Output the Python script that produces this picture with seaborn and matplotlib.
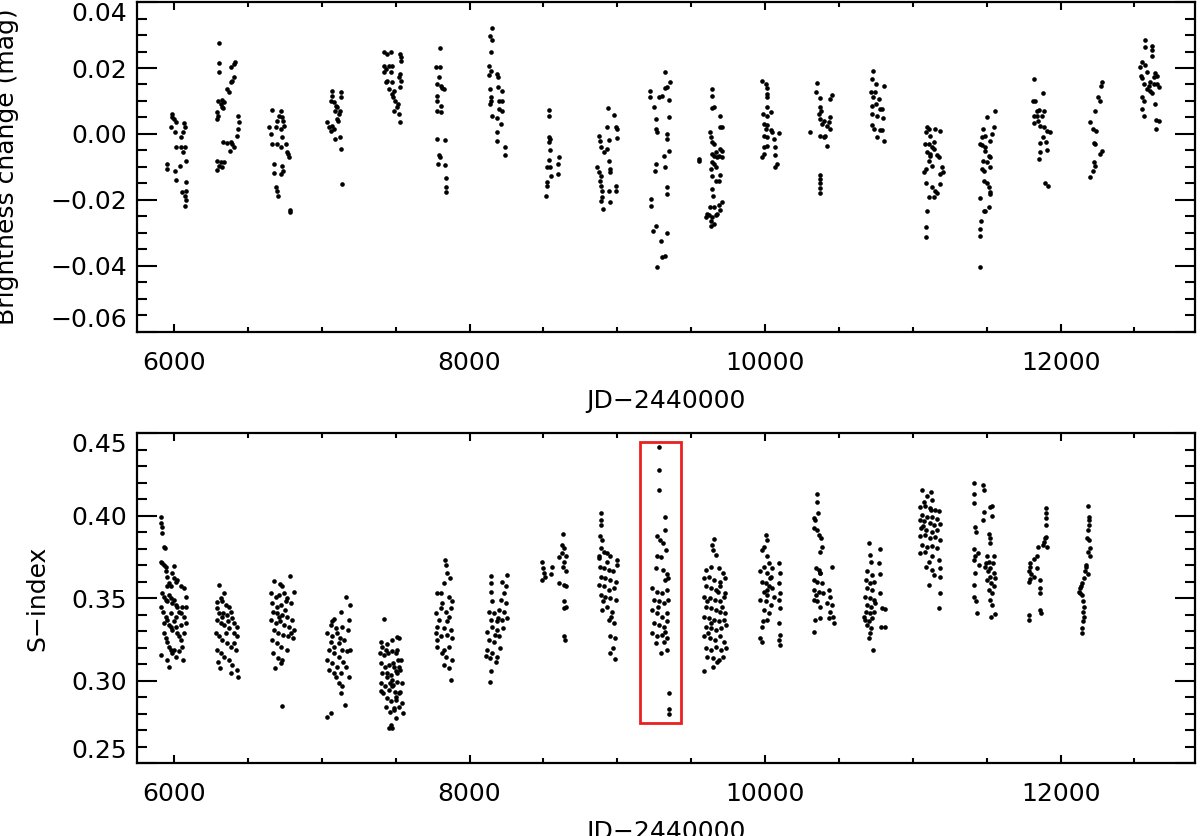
import pandas as pd
import matplotlib
matplotlib.use('Agg')
import matplotlib.pyplot as plt
import seaborn as sns
from matplotlib.patches import Rectangle
from matplotlib.ticker import FixedLocator, MultipleLocator

# photometry: (JD-2440000, brightness change in mag), one line per observing season
phot_obs = [
    (5984, 0.0061), (5989, 0.0051), (6000, 0.0045), (5977, 0.0020), (6011, 0.0035), (6007, 0.0005), (6068, 0.0033),
    (6074, 0.0020), (6063, 0.0005), (6045, -0.0010), (6016, -0.0038), (6045, -0.0040), (6074, -0.0040), (6063, -0.0056),
    (5955, -0.0091), (5955, -0.0106), (6007, -0.0111), (6038, -0.0098), (6079, -0.0081), (6011, -0.0139), (6079, -0.0146),
    (6079, -0.0172), (6074, -0.0187), (6079, -0.0200), (6074, -0.0219), (6056, -0.0177),
    (6304, 0.0275), (6304, 0.0214), (6304, 0.0187), (6298, 0.0101), (6316, 0.0091), (6327, 0.0103), (6338, 0.0096),
    (6334, 0.0079), (6361, 0.0136), (6372, 0.0126), (6383, 0.0157), (6395, 0.0162), (6406, 0.0172), (6406, 0.0212),
    (6410, 0.0217), (6383, 0.0202), (6293, 0.0066), (6298, 0.0056), (6293, 0.0045), (6293, -0.0081), (6304, -0.0096),
    (6293, -0.0108), (6316, -0.0086), (6338, -0.0086), (6334, -0.0025), (6361, -0.0028), (6383, -0.0023), (6395, -0.0030),
    (6379, -0.0051), (6406, -0.0040), (6424, -0.0005), (6433, 0.0015), (6440, 0.0035), (6433, 0.0056), (6327, -0.0101),
    (6327, 0.0081),
    (6665, 0.0073), (6722, 0.0071), (6710, 0.0056), (6733, 0.0051), (6699, 0.0040), (6740, 0.0040), (6744, 0.0025),
    (6643, 0.0020), (6654, 0.0000), (6688, 0.0020), (6722, 0.0015), (6699, -0.0030), (6755, -0.0030), (6762, -0.0056),
    (6771, -0.0061), (6780, -0.0071), (6677, -0.0091), (6677, -0.0119), (6733, -0.0096), (6740, -0.0111), (6726, -0.0121),
    (6688, -0.0162), (6699, -0.0172), (6704, -0.0187), (6785, -0.0230), (6785, -0.0235), (6665, -0.0030), (6722, -0.0040),
    (6733, -0.0010),
    (7067, 0.0131), (7071, 0.0116), (7064, 0.0101), (7082, 0.0096), (7094, 0.0086), (7105, 0.0081), (7089, 0.0071),
    (7123, 0.0071), (7127, 0.0126), (7132, 0.0111), (7037, 0.0035), (7048, 0.0020), (7060, 0.0008), (7071, 0.0025),
    (7082, 0.0015), (7105, 0.0045), (7116, 0.0061), (7110, 0.0040), (7089, -0.0015), (7123, -0.0010), (7132, -0.0045),
    (7139, -0.0152),
    (7421, 0.0247), (7444, 0.0242), (7421, 0.0207), (7432, 0.0197), (7455, 0.0207), (7421, 0.0187), (7444, 0.0162),
    (7432, 0.0157), (7455, 0.0136), (7471, 0.0247), (7473, 0.0207), (7471, 0.0187), (7477, 0.0157), (7489, 0.0131),
    (7484, 0.0111), (7493, 0.0101), (7511, 0.0081), (7489, 0.0071), (7529, 0.0242), (7534, 0.0232), (7534, 0.0222),
    (7529, 0.0182), (7534, 0.0162), (7529, 0.0035), (7516, 0.0091), (7477, 0.0121), (7522, 0.0061), (7529, 0.0141),
    (7522, 0.0172),
    (7800, 0.0261), (7770, 0.0202), (7800, 0.0202), (7782, 0.0152), (7804, 0.0146), (7816, 0.0139), (7827, 0.0136),
    (7793, 0.0172), (7777, 0.0116), (7782, 0.0101), (7804, 0.0086), (7782, 0.0071), (7809, 0.0066), (7777, -0.0015),
    (7831, -0.0018), (7793, -0.0063), (7800, -0.0071), (7788, -0.0091), (7831, -0.0094), (7838, -0.0134), (7838, -0.0162),
    (7843, -0.0177),
    (8154, 0.0321), (8138, 0.0298), (8154, 0.0285), (8143, 0.0247), (8131, 0.0207), (8143, 0.0192), (8131, 0.0180),
    (8188, 0.0182), (8192, 0.0174), (8138, 0.0136), (8192, 0.0141), (8221, 0.0131), (8143, 0.0111), (8143, 0.0101),
    (8138, 0.0091), (8199, 0.0101), (8221, 0.0101), (8199, 0.0076), (8221, 0.0071), (8154, 0.0056), (8183, 0.0048),
    (8210, 0.0030), (8183, 0.0005), (8183, -0.0020), (8237, -0.0040), (8237, -0.0064),
    (8537, 0.0073), (8537, 0.0056), (8537, -0.0008), (8542, -0.0015), (8537, -0.0025), (8544, -0.0047), (8537, -0.0079),
    (8544, -0.0099), (8548, -0.0126), (8526, -0.0146), (8521, -0.0157), (8519, -0.0187), (8605, -0.0071), (8600, -0.0091),
    (8600, -0.0121), (8526, -0.0101),
    (8936, 0.0078), (8981, 0.0059), (8932, 0.0022), (8988, 0.0020), (8999, 0.0015), (8875, -0.0005), (8882, -0.0020),
    (8887, -0.0040), (8943, -0.0018), (8999, -0.0013), (8932, -0.0045), (8943, -0.0081), (8864, -0.0099), (8875, -0.0116),
    (8887, -0.0126), (8882, -0.0141), (8891, -0.0157), (8898, -0.0172), (8898, -0.0192), (8891, -0.0202), (8905, -0.0227),
    (8948, -0.0106), (8948, -0.0116), (8943, -0.0172), (8988, -0.0157), (8988, -0.0172), (8948, -0.0205), (8909, -0.0056),
    (9326, 0.0187), (9356, 0.0157), (9338, 0.0141), (9326, 0.0139), (9220, 0.0131), (9220, 0.0113), (9281, 0.0113),
    (9304, 0.0116), (9349, 0.0103), (9247, 0.0083), (9349, 0.0051), (9259, 0.0045), (9259, 0.0015), (9270, 0.0005),
    (9333, 0.0000), (9333, -0.0015), (9349, -0.0051), (9315, -0.0066), (9259, -0.0091), (9254, -0.0111), (9326, -0.0101),
    (9338, -0.0160), (9333, -0.0182), (9225, -0.0197), (9225, -0.0217), (9259, -0.0278), (9243, -0.0293), (9338, -0.0300),
    (9299, -0.0325), (9326, -0.0369), (9304, -0.0372), (9270, -0.0402),
    (9642, 0.0136), (9642, 0.0116), (9653, 0.0081), (9642, 0.0079), (9694, 0.0056), (9698, 0.0020), (9710, 0.0022),
    (9626, 0.0005), (9631, -0.0010), (9642, -0.0025), (9653, -0.0030), (9698, -0.0045), (9710, -0.0051), (9665, -0.0056),
    (9642, -0.0061), (9653, -0.0066), (9687, -0.0066), (9710, -0.0071), (9676, -0.0071), (9552, -0.0076), (9552, -0.0081),
    (9642, -0.0086), (9653, -0.0091), (9631, -0.0106), (9665, -0.0101), (9698, -0.0123), (9642, -0.0126), (9665, -0.0141),
    (9687, -0.0141), (9638, -0.0167), (9649, -0.0187), (9710, -0.0207), (9687, -0.0214), (9653, -0.0222), (9626, -0.0220),
    (9604, -0.0242), (9620, -0.0247), (9642, -0.0253), (9665, -0.0247), (9597, -0.0251), (9631, -0.0263), (9635, -0.0278),
    (9698, -0.0230), (9676, -0.0242), (9653, -0.0273),
    (9980, 0.0160), (10003, 0.0152), (10014, 0.0139), (10010, 0.0121), (10014, 0.0111), (10010, 0.0083), (10037, 0.0068),
    (9987, 0.0061), (10014, 0.0056), (9992, 0.0030), (10014, 0.0028), (10003, 0.0015), (10037, 0.0012), (10048, 0.0007),
    (10093, 0.0003), (9992, -0.0005), (10014, -0.0010), (10059, -0.0015), (9992, -0.0040), (10014, -0.0035),
    (10070, -0.0040), (9980, -0.0071), (9992, -0.0061), (10070, -0.0064), (10082, -0.0091), (10070, -0.0101),
    (10352, 0.0154), (10347, 0.0126), (10374, 0.0109), (10453, 0.0119), (10442, 0.0106), (10374, 0.0081), (10379, 0.0071),
    (10363, 0.0061), (10374, 0.0045), (10397, 0.0040), (10386, 0.0030), (10442, 0.0051), (10431, 0.0035), (10419, 0.0025),
    (10437, 0.0015), (10307, 0.0005), (10374, -0.0005), (10397, -0.0010), (10408, -0.0005), (10419, -0.0035),
    (10370, -0.0123), (10374, -0.0136), (10374, -0.0149), (10374, -0.0164), (10374, -0.0180),
    (10731, 0.0192), (10724, 0.0167), (10753, 0.0152), (10803, 0.0146), (10717, 0.0126), (10746, 0.0126), (10731, 0.0111),
    (10769, 0.0106), (10753, 0.0091), (10724, 0.0086), (10776, 0.0076), (10791, 0.0076), (10724, 0.0061), (10758, 0.0056),
    (10798, 0.0048), (10724, 0.0028), (10740, 0.0015), (10776, 0.0012), (10791, 0.0012), (10758, -0.0010), (10803, -0.0020),
    (11096, 0.0022), (11107, 0.0015), (11091, 0.0005), (11152, 0.0015), (11186, 0.0008), (11118, -0.0005), (11085, -0.0030),
    (11107, -0.0030), (11141, -0.0025), (11130, -0.0040), (11096, -0.0056), (11118, -0.0061), (11164, -0.0063),
    (11175, -0.0071), (11107, -0.0081), (11130, -0.0096), (11078, -0.0116), (11091, -0.0106), (11197, -0.0101),
    (11204, -0.0116), (11186, -0.0121), (11091, -0.0149), (11130, -0.0162), (11152, -0.0172), (11164, -0.0180),
    (11182, -0.0152), (11107, -0.0192), (11141, -0.0192), (11096, -0.0232), (11091, -0.0283), (11091, -0.0313),
    (11114, -0.0066), (11141, -0.0045),
    (11558, 0.0071), (11502, 0.0053), (11547, 0.0020), (11475, 0.0015), (11536, 0.0000), (11468, -0.0010), (11491, -0.0005),
    (11452, -0.0030), (11468, -0.0032), (11524, -0.0020), (11491, -0.0051), (11513, -0.0066), (11524, -0.0071),
    (11475, -0.0081), (11502, -0.0086), (11468, -0.0106), (11479, -0.0111), (11524, -0.0099), (11479, -0.0141),
    (11502, -0.0149), (11513, -0.0162), (11524, -0.0182), (11457, -0.0194), (11513, -0.0222), (11491, -0.0232),
    (11461, -0.0263), (11457, -0.0288), (11457, -0.0308), (11457, -0.0404), (11484, -0.0232), (11520, -0.0177),
    (11491, -0.0040),
    (11818, 0.0167), (11881, 0.0124), (11813, 0.0101), (11824, 0.0101), (11840, 0.0071), (11851, 0.0073), (11885, 0.0069),
    (11818, 0.0056), (11840, 0.0056), (11874, 0.0056), (11818, 0.0032), (11845, 0.0040), (11863, 0.0025), (11885, 0.0020),
    (11908, 0.0008), (11930, 0.0005), (11881, -0.0008), (11903, -0.0025), (11858, -0.0028), (11908, -0.0048),
    (11863, -0.0056), (11854, -0.0076), (11896, -0.0149), (11912, -0.0157),
    (12280, 0.0159), (12276, 0.0146), (12253, 0.0111), (12264, 0.0101), (12235, 0.0071), (12201, 0.0035), (12219, 0.0015),
    (12241, 0.0010), (12223, -0.0028), (12235, -0.0030), (12280, -0.0053), (12264, -0.0061), (12223, -0.0086),
    (12235, -0.0096), (12219, -0.0113), (12201, -0.0129),
    (12573, 0.0286), (12573, 0.0263), (12618, 0.0268), (12618, 0.0255), (12618, 0.0237), (12550, 0.0217), (12573, 0.0210),
    (12539, 0.0204), (12544, 0.0177), (12550, 0.0170), (12584, 0.0187), (12641, 0.0184), (12652, 0.0177), (12629, 0.0172),
    (12602, 0.0157), (12562, 0.0152), (12629, 0.0152), (12652, 0.0150), (12663, 0.0143), (12584, 0.0136), (12607, 0.0131),
    (12618, 0.0123), (12550, 0.0111), (12562, 0.0101), (12641, 0.0091), (12550, 0.0076), (12562, 0.0056), (12647, 0.0043),
    (12663, 0.0040), (12647, 0.0015), (12596, 0.0146),
]

# Ca II H&K activity: (JD-2440000, S-index), one line per observing season
ca_obs = [
    (5910, 0.3994), (5914, 0.3954), (5917, 0.3933), (5921, 0.3893), (5932, 0.3812), (5937, 0.3802), (5910, 0.3721),
    (5921, 0.3711), (5932, 0.3701), (5944, 0.3691), (6000, 0.3695), (5944, 0.3661), (5955, 0.3630), (5989, 0.3651),
    (6000, 0.3620), (6011, 0.3600), (5966, 0.3590), (5977, 0.3570), (6023, 0.3610), (6045, 0.3570), (6068, 0.3560),
    (6079, 0.3509), (5921, 0.3529), (5932, 0.3509), (5944, 0.3489), (5955, 0.3479), (5966, 0.3519), (5977, 0.3499),
    (5989, 0.3469), (6000, 0.3489), (6011, 0.3459), (6023, 0.3448), (6034, 0.3418), (6045, 0.3408), (6056, 0.3448),
    (6068, 0.3388), (6079, 0.3347), (5910, 0.3448), (5928, 0.3418), (5944, 0.3388), (5955, 0.3368), (5966, 0.3337),
    (5977, 0.3327), (5989, 0.3307), (6000, 0.3358), (6011, 0.3327), (6023, 0.3287), (6034, 0.3267), (6045, 0.3246),
    (6056, 0.3206), (6068, 0.3287), (5932, 0.3287), (5944, 0.3257), (5955, 0.3236), (5966, 0.3206), (5977, 0.3186),
    (5989, 0.3166), (6011, 0.3145), (5910, 0.3156), (5955, 0.3125), (5966, 0.3085), (6000, 0.3186), (6034, 0.3176),
    (6063, 0.3125), (5932, 0.3347), (6045, 0.3337), (6079, 0.3448), (5950, 0.3570), (5982, 0.3408), (6016, 0.3388),
    (6304, 0.3580), (6338, 0.3533), (6316, 0.3499), (6293, 0.3473), (6327, 0.3479), (6350, 0.3459), (6372, 0.3448),
    (6383, 0.3418), (6289, 0.3438), (6304, 0.3408), (6327, 0.3388), (6361, 0.3398), (6395, 0.3378), (6406, 0.3347),
    (6428, 0.3327), (6293, 0.3368), (6316, 0.3347), (6338, 0.3337), (6372, 0.3317), (6406, 0.3287), (6424, 0.3267),
    (6282, 0.3287), (6304, 0.3267), (6327, 0.3246), (6356, 0.3226), (6383, 0.3206), (6417, 0.3186), (6293, 0.3186),
    (6316, 0.3166), (6338, 0.3145), (6372, 0.3125), (6395, 0.3095), (6428, 0.3065), (6298, 0.3115), (6311, 0.3075),
    (6383, 0.3044), (6433, 0.3024), (6350, 0.3287), (6406, 0.3226), (6334, 0.3408), (6365, 0.3358),
    (6677, 0.3606), (6717, 0.3586), (6733, 0.3574), (6785, 0.3634), (6812, 0.3539), (6659, 0.3529), (6688, 0.3509),
    (6710, 0.3519), (6744, 0.3529), (6767, 0.3499), (6665, 0.3469), (6695, 0.3448), (6722, 0.3459), (6755, 0.3479),
    (6789, 0.3469), (6672, 0.3418), (6699, 0.3408), (6733, 0.3398), (6767, 0.3388), (6801, 0.3368), (6659, 0.3368),
    (6688, 0.3347), (6717, 0.3358), (6744, 0.3337), (6778, 0.3327), (6812, 0.3307), (6677, 0.3307), (6704, 0.3287),
    (6740, 0.3277), (6771, 0.3267), (6807, 0.3257), (6665, 0.3246), (6695, 0.3226), (6726, 0.3206), (6762, 0.3186),
    (6672, 0.3166), (6704, 0.3135), (6733, 0.3125), (6681, 0.3075), (6722, 0.3109), (6733, 0.2846), (6794, 0.3287),
    (6713, 0.3388), (6749, 0.3428),
    (7161, 0.3505), (7191, 0.3459), (7127, 0.3418), (7184, 0.3368), (7082, 0.3372), (7060, 0.3337), (7094, 0.3317),
    (7037, 0.3287), (7071, 0.3267), (7105, 0.3287), (7139, 0.3327), (7060, 0.3236), (7082, 0.3206), (7116, 0.3226),
    (7150, 0.3246), (7048, 0.3186), (7082, 0.3166), (7116, 0.3145), (7139, 0.3186), (7172, 0.3176), (7037, 0.3125),
    (7071, 0.3105), (7105, 0.3085), (7127, 0.3044), (7161, 0.3085), (7184, 0.3024), (7048, 0.3065), (7082, 0.3044),
    (7116, 0.2984), (7139, 0.2964), (7127, 0.2923), (7154, 0.2853), (7060, 0.2802), (7033, 0.2776), (7094, 0.3024),
    (7123, 0.3257), (7145, 0.3115), (7191, 0.3186), (7177, 0.3307), (7071, 0.3358),
    (7421, 0.3372), (7398, 0.3236), (7409, 0.3206), (7443, 0.3222), (7477, 0.3246), (7511, 0.3263), (7394, 0.3166),
    (7421, 0.3156), (7448, 0.3166), (7477, 0.3176), (7507, 0.3186), (7398, 0.3105), (7425, 0.3085), (7454, 0.3095),
    (7484, 0.3109), (7515, 0.3125), (7409, 0.3044), (7439, 0.3024), (7466, 0.3034), (7500, 0.3055), (7529, 0.3065),
    (7398, 0.2984), (7425, 0.2964), (7454, 0.2943), (7484, 0.2974), (7511, 0.2994), (7416, 0.2923), (7443, 0.2893),
    (7470, 0.2873), (7500, 0.2903), (7529, 0.2933), (7432, 0.2842), (7461, 0.2812), (7489, 0.2832), (7522, 0.2842),
    (7454, 0.2711), (7470, 0.2731), (7500, 0.2772), (7443, 0.3044), (7477, 0.3004), (7403, 0.2939), (7461, 0.2984),
    (7493, 0.2933), (7522, 0.3085), (7432, 0.3186), (7522, 0.3257), (7500, 0.3166), (7534, 0.3125), (7489, 0.3085),
    (7511, 0.3044), (7545, 0.2984), (7477, 0.2964), (7522, 0.2923), (7500, 0.2883), (7545, 0.2863), (7552, 0.2802),
    (7489, 0.2822), (7477, 0.2711),
    (7831, 0.3731), (7838, 0.3701), (7845, 0.3651), (7867, 0.3620), (7827, 0.3590), (7782, 0.3533), (7804, 0.3529),
    (7861, 0.3509), (7883, 0.3479), (7816, 0.3469), (7872, 0.3438), (7770, 0.3412), (7838, 0.3418), (7793, 0.3368),
    (7861, 0.3388), (7782, 0.3327), (7827, 0.3317), (7876, 0.3307), (7770, 0.3287), (7804, 0.3267), (7849, 0.3277),
    (7883, 0.3257), (7782, 0.3206), (7827, 0.3186), (7861, 0.3206), (7816, 0.3166), (7838, 0.3145), (7883, 0.3125),
    (7827, 0.3095), (7861, 0.3075), (7872, 0.3004), (7782, 0.3246), (7845, 0.3358), (7809, 0.3438),
    (8143, 0.3634), (8251, 0.3640), (8147, 0.3590), (8221, 0.3600), (8244, 0.3570), (8143, 0.3539), (8233, 0.3529),
    (8154, 0.3479), (8210, 0.3489), (8244, 0.3469), (8131, 0.3418), (8165, 0.3408), (8199, 0.3428), (8233, 0.3418),
    (8143, 0.3368), (8183, 0.3358), (8221, 0.3368), (8251, 0.3378), (8120, 0.3297), (8154, 0.3327), (8188, 0.3307),
    (8228, 0.3317), (8131, 0.3246), (8165, 0.3236), (8199, 0.3267), (8120, 0.3186), (8154, 0.3166), (8188, 0.3145),
    (8138, 0.3135), (8176, 0.3115), (8143, 0.3055), (8138, 0.2994), (8109, 0.3149), (8206, 0.3196), (8170, 0.3277),
    (8192, 0.3378),
    (8492, 0.3721), (8499, 0.3681), (8503, 0.3651), (8492, 0.3610), (8508, 0.3630), (8560, 0.3691), (8548, 0.3646),
    (8634, 0.3889), (8627, 0.3822), (8639, 0.3802), (8627, 0.3772), (8650, 0.3752), (8639, 0.3721), (8634, 0.3691),
    (8650, 0.3661), (8605, 0.3590), (8639, 0.3580), (8650, 0.3570), (8639, 0.3479), (8650, 0.3448), (8639, 0.3438),
    (8639, 0.3271), (8643, 0.3246), (8605, 0.3747),
    (8887, 0.4014), (8891, 0.3974), (8887, 0.3943), (8882, 0.3873), (8898, 0.3853), (8887, 0.3802), (8909, 0.3782),
    (8875, 0.3752), (8932, 0.3772), (8954, 0.3752), (8999, 0.3731), (8995, 0.3701), (8882, 0.3691), (8909, 0.3681),
    (8943, 0.3671), (8972, 0.3661), (8891, 0.3630), (8920, 0.3620), (8954, 0.3610), (8988, 0.3600), (8875, 0.3580),
    (8909, 0.3570), (8943, 0.3550), (8977, 0.3560), (8887, 0.3519), (8920, 0.3509), (8954, 0.3499), (8988, 0.3489),
    (8898, 0.3428), (8932, 0.3448), (8966, 0.3418), (8943, 0.3368), (8977, 0.3347), (8954, 0.3267), (8982, 0.3257),
    (8950, 0.3166), (8982, 0.3129), (8972, 0.3196), (8875, 0.3741), (8927, 0.3721), (8905, 0.3479), (8959, 0.3388),
    (9284, 0.4418), (9284, 0.4273), (9284, 0.4152), (9322, 0.3990), (9320, 0.3913), (9270, 0.3873), (9288, 0.3853),
    (9311, 0.3832), (9329, 0.3792), (9270, 0.3752), (9297, 0.3747), (9261, 0.3681), (9311, 0.3671), (9333, 0.3646),
    (9320, 0.3610), (9342, 0.3620), (9236, 0.3560), (9270, 0.3539), (9304, 0.3529), (9333, 0.3550), (9247, 0.3489),
    (9281, 0.3479), (9315, 0.3469), (9342, 0.3489), (9236, 0.3428), (9270, 0.3408), (9304, 0.3388), (9333, 0.3408),
    (9247, 0.3347), (9281, 0.3337), (9315, 0.3327), (9338, 0.3358), (9236, 0.3287), (9270, 0.3267), (9304, 0.3277),
    (9333, 0.3257), (9259, 0.3226), (9315, 0.3236), (9293, 0.3166), (9333, 0.3186), (9349, 0.2923), (9349, 0.2830),
    (9349, 0.2798), (9277, 0.3448), (9326, 0.3297),
    (9653, 0.3857), (9642, 0.3822), (9649, 0.3792), (9665, 0.3762), (9597, 0.3671), (9631, 0.3691), (9687, 0.3681),
    (9716, 0.3651), (9586, 0.3620), (9620, 0.3630), (9653, 0.3610), (9698, 0.3600), (9732, 0.3620), (9597, 0.3570),
    (9631, 0.3560), (9665, 0.3550), (9698, 0.3570), (9728, 0.3529), (9590, 0.3509), (9626, 0.3499), (9658, 0.3489),
    (9694, 0.3479), (9721, 0.3509), (9597, 0.3448), (9631, 0.3438), (9665, 0.3428), (9698, 0.3418), (9732, 0.3408),
    (9586, 0.3388), (9620, 0.3378), (9653, 0.3368), (9687, 0.3358), (9721, 0.3368), (9597, 0.3327), (9631, 0.3317),
    (9665, 0.3307), (9703, 0.3317), (9739, 0.3337), (9590, 0.3267), (9626, 0.3257), (9658, 0.3246), (9694, 0.3267),
    (9721, 0.3236), (9597, 0.3196), (9631, 0.3186), (9665, 0.3206), (9703, 0.3186), (9739, 0.3196), (9608, 0.3145),
    (9649, 0.3135), (9687, 0.3125), (9716, 0.3145), (9586, 0.3055), (9649, 0.3085), (9676, 0.3115), (9613, 0.3287),
    (9710, 0.3448), (9635, 0.3347), (9680, 0.3539), (9604, 0.3479),
    (10003, 0.3883), (10010, 0.3853), (9992, 0.3812), (9980, 0.3792), (10010, 0.3752), (10025, 0.3711), (9992, 0.3691),
    (10048, 0.3681), (9969, 0.3661), (10014, 0.3651), (10037, 0.3630), (9980, 0.3600), (10003, 0.3590), (10025, 0.3570),
    (10048, 0.3560), (9992, 0.3539), (10014, 0.3519), (9969, 0.3489), (10003, 0.3479), (10037, 0.3459), (9992, 0.3428),
    (10025, 0.3408), (10014, 0.3368), (9980, 0.3327), (9965, 0.3257), (9980, 0.3236), (10093, 0.3711), (10100, 0.3651),
    (10093, 0.3590), (10100, 0.3529), (10093, 0.3489), (10100, 0.3438), (10093, 0.3347), (10100, 0.3277), (10093, 0.3246),
    (10100, 0.3216), (10059, 0.3509), (10010, 0.3550), (10032, 0.3620), (9987, 0.3358),
    (10352, 0.4131), (10352, 0.4085), (10356, 0.4018), (10334, 0.3984), (10340, 0.3970), (10334, 0.3923), (10352, 0.3913),
    (10363, 0.3883), (10379, 0.3863), (10386, 0.3812), (10370, 0.3782), (10453, 0.3691), (10347, 0.3681), (10363, 0.3671),
    (10374, 0.3651), (10329, 0.3610), (10352, 0.3600), (10386, 0.3590), (10334, 0.3550), (10363, 0.3539), (10392, 0.3529),
    (10431, 0.3550), (10442, 0.3509), (10329, 0.3489), (10352, 0.3479), (10374, 0.3448), (10419, 0.3469), (10453, 0.3459),
    (10437, 0.3418), (10460, 0.3388), (10340, 0.3368), (10374, 0.3378), (10431, 0.3378), (10465, 0.3347), (10329, 0.3297),
    (10370, 0.3651), (10347, 0.3519),
    (10701, 0.3832), (10708, 0.3762), (10776, 0.3796), (10717, 0.3721), (10769, 0.3711), (10690, 0.3661), (10724, 0.3640),
    (10776, 0.3646), (10685, 0.3610), (10713, 0.3590), (10740, 0.3600), (10690, 0.3560), (10724, 0.3550), (10780, 0.3533),
    (10679, 0.3509), (10708, 0.3499), (10735, 0.3489), (10690, 0.3459), (10717, 0.3448), (10685, 0.3418), (10713, 0.3408),
    (10740, 0.3418), (10679, 0.3368), (10701, 0.3358), (10724, 0.3378), (10690, 0.3337), (10717, 0.3317), (10708, 0.3287),
    (10701, 0.3257), (10731, 0.3186), (10791, 0.3438), (10814, 0.3432), (10785, 0.3327), (10814, 0.3327), (10746, 0.3469),
    (10672, 0.3388),
    (11062, 0.4152), (11123, 0.4145), (11096, 0.4119), (11078, 0.4085), (11130, 0.4095), (11051, 0.4051), (11085, 0.4055),
    (11114, 0.4044), (11152, 0.4034), (11175, 0.4030), (11062, 0.4004), (11096, 0.3994), (11130, 0.3990), (11164, 0.3978),
    (11046, 0.3974), (11078, 0.3964), (11114, 0.3954), (11145, 0.3943), (11186, 0.3949), (11055, 0.3923), (11091, 0.3913),
    (11130, 0.3903), (11164, 0.3913), (11051, 0.3873), (11085, 0.3883), (11118, 0.3863), (11152, 0.3869), (11186, 0.3853),
    (11062, 0.3822), (11096, 0.3812), (11130, 0.3816), (11164, 0.3802), (11046, 0.3772), (11085, 0.3782), (11130, 0.3752),
    (11107, 0.3721), (11175, 0.3731), (11091, 0.3691), (11130, 0.3671), (11182, 0.3681), (11107, 0.3580), (11141, 0.3640),
    (11182, 0.3630), (11186, 0.3529), (11175, 0.3438), (11123, 0.4034), (11069, 0.3937),
    (11412, 0.4196), (11475, 0.4186), (11479, 0.4152), (11412, 0.4131), (11416, 0.4075), (11536, 0.4059), (11520, 0.4051),
    (11479, 0.4024), (11475, 0.3974), (11536, 0.3998), (11423, 0.3929), (11430, 0.3903), (11513, 0.3889), (11520, 0.3863),
    (11524, 0.3832), (11412, 0.3796), (11439, 0.3772), (11502, 0.3752), (11547, 0.3756), (11423, 0.3752), (11412, 0.3731),
    (11513, 0.3721), (11543, 0.3711), (11445, 0.3701), (11491, 0.3691), (11524, 0.3681), (11547, 0.3651), (11423, 0.3651),
    (11520, 0.3630), (11558, 0.3620), (11502, 0.3610), (11529, 0.3590), (11412, 0.3580), (11547, 0.3570), (11513, 0.3550),
    (11536, 0.3529), (11412, 0.3509), (11430, 0.3479), (11524, 0.3489), (11536, 0.3459), (11434, 0.3412), (11529, 0.3384),
    (11558, 0.3404), (11497, 0.3711), (11506, 0.3661),
    (11903, 0.4044), (11903, 0.4014), (11903, 0.3984), (11903, 0.3943), (11903, 0.3869), (11890, 0.3842), (11881, 0.3822),
    (11908, 0.3812), (11845, 0.3812), (11840, 0.3756), (11818, 0.3735), (11790, 0.3711), (11795, 0.3691), (11784, 0.3661),
    (11799, 0.3646), (11840, 0.3681), (11795, 0.3614), (11784, 0.3600), (11863, 0.3610), (11863, 0.3560), (11863, 0.3533),
    (11858, 0.3428), (11867, 0.3412), (11784, 0.3398), (11784, 0.3368), (11896, 0.3863), (11818, 0.3630),
    (12183, 0.4059), (12190, 0.3994), (12190, 0.3974), (12190, 0.3943), (12183, 0.3913), (12178, 0.3863), (12190, 0.3853),
    (12196, 0.3802), (12183, 0.3782), (12201, 0.3752), (12174, 0.3701), (12167, 0.3661), (12183, 0.3646), (12156, 0.3620),
    (12144, 0.3590), (12129, 0.3560), (12122, 0.3539), (12133, 0.3529), (12144, 0.3519), (12151, 0.3479), (12156, 0.3448),
    (12151, 0.3418), (12156, 0.3388), (12151, 0.3358), (12144, 0.3317), (12144, 0.3287), (12174, 0.3691), (12138, 0.3574),
]

# season singled out with a box in the S-index panel
highlight_jd = (9157, 9428)
highlight_s = (0.2745, 0.4448)

jd_ticks = [6000, 8000, 10000, 12000]
jd_tick_labels = ['6000', '8000', '10000', '12000']
mag_ticks = [-0.06, -0.04, -0.02, 0.00, 0.02, 0.04]
mag_tick_labels = ['\u22120.06', '\u22120.04', '\u22120.02', '0.00', '0.02', '0.04']
s_ticks = [0.25, 0.30, 0.35, 0.40, 0.45]
s_tick_labels = ['0.25', '0.30', '0.35', '0.40', '0.45']

phot = pd.DataFrame(phot_obs, columns=['jd', 'dmag'])
ca = pd.DataFrame(ca_obs, columns=['jd', 'sindex'])

sns.set_theme(style='ticks')
plt.rcParams['font.family'] = ['DejaVu Sans']
plt.rcParams['axes.linewidth'] = 1.6
plt.rcParams['axes.edgecolor'] = 'black'
plt.rcParams['text.color'] = 'black'
plt.rcParams['axes.labelcolor'] = 'black'
plt.rcParams['xtick.color'] = 'black'
plt.rcParams['ytick.color'] = 'black'

fig = plt.figure(figsize=(12, 8.36), dpi=100)
ax1 = fig.add_axes([0.1142, 0.6029, 0.8817, 0.3947])
ax2 = fig.add_axes([0.1142, 0.0873, 0.8817, 0.3947])

sns.scatterplot(data=phot, x='jd', y='dmag', ax=ax1, color='black', s=11, linewidth=0)
sns.scatterplot(data=ca, x='jd', y='sindex', ax=ax2, color='black', s=11, linewidth=0)

ax2.add_patch(Rectangle((highlight_jd[0], highlight_s[0]), highlight_jd[1] - highlight_jd[0],
                        highlight_s[1] - highlight_s[0], fill=False, edgecolor='#e8211f', linewidth=2, zorder=5))


def style_axis(ax, yticks, ylabels, ylim, yminor, ylabel, ylabel_x):
    ax.set_xlim(5750, 12910)
    ax.set_ylim(*ylim)
    ax.xaxis.set_major_locator(FixedLocator(jd_ticks))
    ax.set_xticklabels(jd_tick_labels)
    ax.xaxis.set_minor_locator(MultipleLocator(500))
    ax.yaxis.set_major_locator(FixedLocator(yticks))
    ax.set_yticklabels(ylabels)
    ax.yaxis.set_minor_locator(MultipleLocator(yminor))
    ax.tick_params(which='both', direction='in', top=True, right=True, color='black', width=1.5,
                   labelsize=18, labelcolor='black')
    ax.tick_params(axis='x', which='major', length=6, pad=14)
    ax.tick_params(axis='x', which='minor', length=3.5)
    ax.tick_params(axis='y', which='major', length=14.5, pad=7)
    ax.tick_params(axis='y', which='minor', length=7)
    ax.set_xlabel('JD\u22122440000', fontsize=18, labelpad=10, color='black')
    ax.set_ylabel(ylabel, fontsize=18, color='black')
    ax.yaxis.set_label_coords(ylabel_x, 0.5)
    for sp in ax.spines.values():
        sp.set_visible(True)
    # end labels sit inside the frame as in the original
    labels = ax.get_yticklabels()
    labels[0].set_verticalalignment('bottom')
    labels[-1].set_verticalalignment('top')


style_axis(ax1, mag_ticks, mag_tick_labels, (-0.06, 0.04), 0.005, 'Brightness change (mag)', -0.112)
style_axis(ax2, s_ticks, s_tick_labels, (0.25, 0.45), 0.01, 'S\u2212index', -0.083)

fig.savefig('out.png', dpi=100)
